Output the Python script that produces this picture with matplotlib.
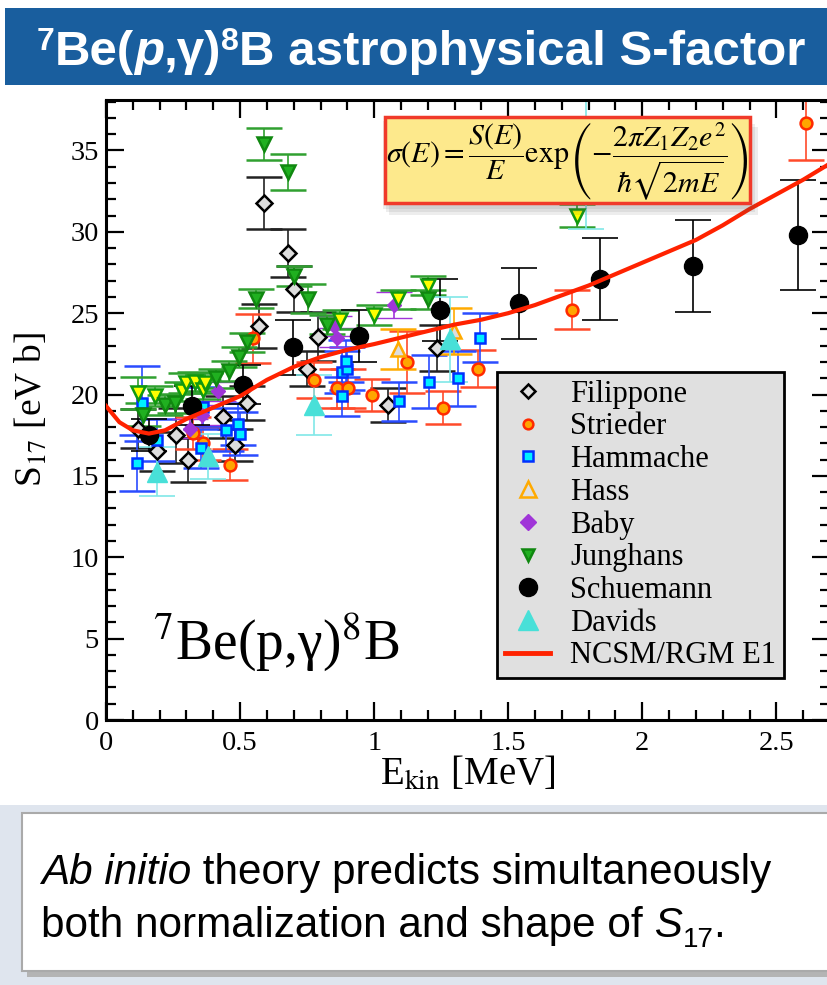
import numpy as np
import matplotlib.pyplot as plt
from matplotlib.patches import Rectangle
from matplotlib.lines import Line2D
from matplotlib.ticker import MultipleLocator, FuncFormatter

plt.rcParams['font.family'] = ['Liberation Serif', 'DejaVu Serif']
plt.rcParams['mathtext.fontset'] = 'stix'

# --- data: energy [MeV], S17 [eV b], error ---
fil_e = [0.118, 0.189, 0.261, 0.305, 0.438, 0.481, 0.525, 0.572, 0.59, 0.68, 0.70, 0.749, 0.79, 1.053, 1.234]
fil_s = [17.9, 16.5, 17.5, 16.0, 18.6, 16.9, 19.5, 24.2, 31.75, 28.7, 26.5, 21.6, 23.55, 19.35, 22.85]
fil_d = [1.2, 1.2, 1.7, 1.35, 1.3, 1.0, 1.05, 1.35, 1.6, 1.5, 1.4, 1.05, 1.5, 1.05, 1.4]

str_e = [0.326, 0.363, 0.463, 0.547, 0.774, 0.86, 0.904, 0.993, 1.124, 1.255, 1.387, 1.737, 2.61]
str_s = [17.65, 17.0, 15.7, 23.45, 20.9, 20.4, 20.4, 19.97, 22.0, 19.2, 21.6, 25.2, 36.7]
str_d = [1.0, 1.0, 0.95, 1.5, 1.1, 1.2, 1.2, 1.0, 1.9, 1.0, 1.15, 1.2, 2.3]

ham_e = [0.114, 0.133, 0.189, 0.354, 0.36, 0.448, 0.494, 0.50, 0.879, 0.879, 0.898, 0.894, 1.093, 1.203, 1.312, 1.395]
ham_s = [15.8, 19.45, 17.2, 16.7, 19.25, 17.85, 18.2, 17.6, 19.9, 21.4, 21.6, 22.05, 19.6, 20.8, 21.0, 23.5]
ham_d = [1.7, 2.3, 1.3, 1.2, 1.2, 1.3, 1.3, 1.3, 1.2, 1.3, 1.3, 1.3, 1.2, 1.6, 1.7, 1.5]

has_e = [1.09, 1.296]
has_s = [22.8, 23.9]
has_d = [1.2, 1.4]

bab_e = [0.313, 0.357, 0.419, 0.85, 0.86, 1.075]
bab_s = [17.9, 18.75, 20.2, 24.2, 23.5, 25.5]
bab_d = [0.6, 0.6, 0.6, 0.6, 0.6, 0.8]

# Junghans, green filled points
jun_e = [0.139, 0.22, 0.257, 0.41, 0.46, 0.497, 0.525, 0.56, 0.59, 0.68, 0.70, 0.755, 0.823, 1.20]
jun_s = [18.75, 19.35, 19.45, 21.0, 21.45, 22.3, 23.2, 25.9, 35.4, 33.7, 27.3, 25.9, 24.3, 25.85]
jun_d = [0.7, 0.6, 0.6, 0.6, 0.6, 0.6, 0.6, 0.6, 1.0, 1.1, 0.6, 0.9, 0.6, 0.6]
# Junghans, yellow filled points
juy_e = [0.118, 0.183, 0.282, 0.30, 0.332, 0.363, 0.369, 0.873, 1.0, 1.088, 1.20, 1.756]
juy_s = [20.1, 19.9, 20.2, 20.7, 20.8, 20.3, 20.7, 24.6, 24.9, 25.85, 26.7, 31.0]
juy_d = [1.0, 0.6, 0.6, 0.6, 0.6, 0.6, 0.6, 0.6, 0.6, 0.6, 0.6, 0.7]

sch_e = [0.162, 0.32, 0.51, 0.697, 0.944, 1.246, 1.54, 1.843, 2.19, 2.58]
sch_s = [17.5, 19.3, 20.6, 22.9, 23.6, 25.2, 25.6, 27.1, 27.9, 29.8]
sch_d = [1.0, 1.2, 1.2, 1.7, 1.6, 1.9, 2.2, 2.5, 2.8, 3.4]

dav_e = [0.191, 0.382, 0.774, 1.284, 1.79]
dav_s = [15.25, 16.2, 19.35, 23.4, 34.2]
dav_d = [1.5, 1.4, 1.85, 2.6, 4.0]

# NCSM/RGM E1 curve
th_e = [0.0, 0.05, 0.1, 0.16, 0.22, 0.3, 0.4, 0.5, 0.6, 0.7, 0.8, 0.9, 1.0, 1.1, 1.2, 1.3, 1.4,
        1.5, 1.6, 1.7, 1.8, 1.9, 2.0, 2.1, 2.2, 2.3, 2.4, 2.5, 2.6, 2.7]
th_s = [19.3, 18.3, 17.8, 17.6, 17.8, 18.5, 19.2, 19.9, 20.9, 21.7, 22.3, 22.75, 23.1, 23.5, 23.9,
        24.3, 24.6, 25.0, 25.5, 26.1, 26.7, 27.4, 28.1, 28.8, 29.5, 30.4, 31.4, 32.3, 33.2, 34.2]

W, H = 828, 985
fig = plt.figure(figsize=(W / 100, H / 100), dpi=100)

# background layer in pixel coordinates
bg = fig.add_axes([0, 0, 1, 1], zorder=-1)
bg.set_xlim(0, W)
bg.set_ylim(H, 0)
bg.axis('off')
bg.add_patch(Rectangle((5, 8), 823, 77, fc='#195e9e', ec='none'))
bg.add_patch(Rectangle((0, 805), W, 180, fc='#dfe5ee', ec='none'))
bg.add_patch(Rectangle((27, 818), 805, 159, fc='#b4b4b4', ec='none'))
bg.add_patch(Rectangle((22, 813), 810, 158, fc='white', ec='#aaaaaa', lw=1.5))


def chain(ax, x, y, pieces):
    # text pieces put one after the other on the same line
    prev = None
    for txt, kw, dy in pieces:
        if prev is None:
            t = ax.annotate(txt, xy=(x, y), xycoords='data', xytext=(0, dy),
                            textcoords='offset points', va='bottom', ha='left',
                            annotation_clip=False, **kw)
        else:
            t = ax.annotate(txt, xy=(1, y), xycoords=(prev, 'data'), xytext=(0, dy),
                            textcoords='offset points', va='bottom', ha='left',
                            annotation_clip=False, **kw)
        prev = t


sans = ['Liberation Sans', 'DejaVu Sans']
tb = dict(color='white', fontweight='bold', family=sans, fontsize=35.5)
ts = dict(color='white', fontweight='bold', family=sans, fontsize=23)
chain(bg, 37, 75, [('7', ts, 13), ('Be(', tb, 0), ('p', dict(tb, style='italic'), 0),
                   (',γ)', tb, 0), ('8', ts, 13), ('B astrophysical S-factor', tb, 0)])

bn = dict(color='black', family=sans, fontsize=30.4)
chain(bg, 41, 893, [('Ab initio', dict(bn, style='italic'), 0),
                    (' theory predicts simultaneously', bn, 0)])
chain(bg, 41, 946, [('both normalization and shape of', bn, 0),
                    (' S', dict(bn, style='italic'), 0),
                    ('17', dict(bn, fontsize=20), -5),
                    ('.', bn, 0)])

# main plot
ax = fig.add_axes([106 / W, 1 - 720 / H, 724 / W, 620 / H], zorder=1)

ebkw = dict(ls='none', capsize=13, elinewidth=1.2, capthick=1.2)
ax.errorbar(fil_e, fil_s, yerr=fil_d, marker='D', ms=8, mfc='#dddddd', mec='black', mew=1.8,
            ecolor='#222222', **ebkw)
ax.errorbar(str_e, str_s, yerr=str_d, marker='o', ms=8.5, mfc='#ffa500', mec='#ff2a00', mew=1.8,
            ecolor='#ff4a2a', **ebkw)
ax.errorbar(ham_e, ham_s, yerr=ham_d, marker='s', ms=7.5, mfc='#00f0ff', mec='#0030ff', mew=1.8,
            ecolor='#2a4cff', **ebkw)
ax.errorbar(has_e, has_s, yerr=has_d, marker='^', ms=10, mfc='#dddddd', mec='#ffaa00', mew=1.8,
            ecolor='#ffaa00', **ebkw)
ax.errorbar(bab_e, bab_s, yerr=bab_d, marker='D', ms=7, mfc='#a035d8', mec='#a035d8', mew=1,
            ecolor='#a035d8', **ebkw)
ax.errorbar(juy_e, juy_s, yerr=juy_d, marker='v', ms=10, mfc='#ffff00', mec='#109910', mew=1.8,
            ecolor='#30a030', **ebkw)
ax.errorbar(jun_e, jun_s, yerr=jun_d, marker='v', ms=10, mfc='#20b020', mec='#108810', mew=1.8,
            ecolor='#30a030', **ebkw)
ax.errorbar(sch_e, sch_s, yerr=sch_d, marker='o', ms=13, mfc='black', mec='black',
            ecolor='black', **ebkw)
ax.errorbar(dav_e, dav_s, yerr=dav_d, marker='^', ms=14, mfc='#48e0d8', mec='#48e0d8',
            ecolor='#80e8e8', **ebkw)
ax.plot(th_e, th_s, color='#ff2200', lw=3, zorder=5)

ax.set_xlim(0, 2.7)
ax.set_ylim(0, 38.1)
ax.xaxis.set_major_locator(MultipleLocator(0.5))
ax.xaxis.set_minor_locator(MultipleLocator(0.1))
ax.yaxis.set_major_locator(MultipleLocator(5))
ax.yaxis.set_minor_locator(MultipleLocator(1))
ax.xaxis.set_major_formatter(FuncFormatter(lambda v, p: '%g' % v))
ax.tick_params(which='both', direction='in', top=True, right=True, width=1.6, labelsize=20.5)
ax.tick_params(which='major', length=13)
ax.tick_params(which='minor', length=7)
ax.tick_params(axis='x', pad=8)
ax.tick_params(axis='y', pad=5)
for sp in ax.spines.values():
    sp.set_linewidth(2.2)

ax.set_xlabel(r'E$_{\mathrm{kin}}$ [MeV]', fontsize=28, labelpad=0)
ax.set_ylabel(r'S$_{17}$ [eV b]', fontsize=27, labelpad=15)

ax.text(0.175, 3.75, r'$^{7}$Be(p,γ)$^{8}$B', fontsize=40)

handles = [
    Line2D([], [], ls='none', marker='D', ms=7, mfc='none', mec='black', mew=1.8, label='Filippone'),
    Line2D([], [], ls='none', marker='o', ms=7, mfc='#ffa500', mec='#ff2a00', mew=1.8, label='Strieder'),
    Line2D([], [], ls='none', marker='s', ms=6.5, mfc='#00f0ff', mec='#0030ff', mew=1.8, label='Hammache'),
    Line2D([], [], ls='none', marker='^', ms=11, mfc='none', mec='#ffaa00', mew=1.8, label='Hass'),
    Line2D([], [], ls='none', marker='D', ms=8.5, mfc='#a035d8', mec='#a035d8', label='Baby'),
    Line2D([], [], ls='none', marker='v', ms=8.5, mfc='#20b020', mec='#108810', mew=1.8, label='Junghans'),
    Line2D([], [], ls='none', marker='o', ms=13, mfc='black', mec='black', label='Schuemann'),
    Line2D([], [], ls='none', marker='^', ms=14, mfc='#48e0d8', mec='#48e0d8', label='Davids'),
    Line2D([], [], color='#ff2200', lw=3.5, label='NCSM/RGM E1'),
]
leg = ax.legend(handles=handles, loc='upper left', bbox_to_anchor=(497 / W, 1 - 372 / H),
                bbox_transform=fig.transFigure, fontsize=22, fancybox=False, framealpha=1,
                facecolor='#e0e0e0', edgecolor='black', borderpad=0.25, labelspacing=0.12,
                handlelength=1.5, handletextpad=0.65, borderaxespad=0)
leg.get_frame().set_linewidth(2)
leg.set_zorder(10)

# formula box on top layer
top = fig.add_axes([0, 0, 1, 1], zorder=3)
top.set_xlim(0, W)
top.set_ylim(H, 0)
top.axis('off')
for i, a in enumerate([0.10, 0.10, 0.10]):
    top.add_patch(Rectangle((385 - 2 + 3 * i, 117 + 4 + 3 * i), 365 + 4, 86 + 2, fc='#555555',
                            ec='none', alpha=a))
top.add_patch(Rectangle((385, 117), 365, 86, fc='#fde98c', ec='#f03a2a', lw=2.5))
top.text(567, 161, r'$\sigma(E) = \dfrac{S(E)}{E}\exp\left(-\dfrac{2\pi Z_1 Z_2 e^2}{\hbar\sqrt{2mE}}\right)$',
         fontsize=21.5, ha='center', va='center')

fig.savefig('out.png', dpi=100)
